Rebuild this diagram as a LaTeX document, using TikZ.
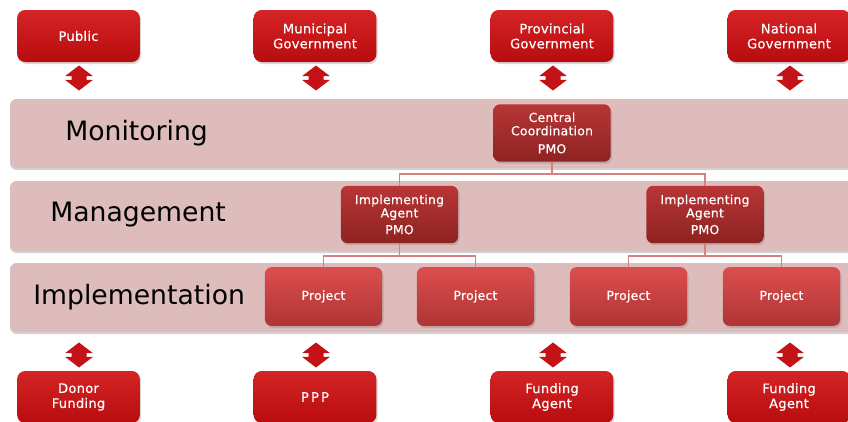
\documentclass[tikz,border=0pt]{standalone}
\usepackage{fontspec}
\newfontfamily\boxfont[FakeBold=0.5,LetterSpace=2]{DejaVu Sans}
\newfontfamily\labelfont{DejaVu Sans}
\usetikzlibrary{shadows}
\definecolor{bandfill}{RGB}{222,188,188}
\definecolor{arrowred}{RGB}{196,18,22}
\definecolor{connpink}{RGB}{214,128,128}
\definecolor{glossA}{RGB}{212,36,38}
\definecolor{glossB}{RGB}{196,16,20}
\definecolor{glossC}{RGB}{184,12,14}
\definecolor{darkA}{RGB}{184,54,54}
\definecolor{darkB}{RGB}{142,34,34}
\definecolor{projA}{RGB}{220,78,78}
\definecolor{projB}{RGB}{176,52,52}
\tikzset{
  band/.style={fill=bandfill, rounded corners=5pt, drop shadow={shadow xshift=0pt, shadow yshift=-1.5pt, opacity=0.35, fill=gray}},
  bandlabel/.style={font=\labelfont\fontsize{20}{22}\selectfont, text=black, anchor=west, inner sep=0pt},
  redbox/.style={rounded corners=6pt, minimum width=92pt, minimum height=39pt, top color=glossA, middle color=glossB, bottom color=glossC,
    text=white, font=\boxfont\fontsize{9.8}{11.25}\selectfont, align=center, inner sep=0pt,
    drop shadow={shadow xshift=1pt, shadow yshift=-1.5pt, opacity=0.3}},
  pmobox/.style={rounded corners=5pt, minimum width=88pt, minimum height=43pt, top color=darkA, bottom color=darkB,
    text=white, font=\boxfont\fontsize{9.3}{10}\selectfont, align=center, inner sep=0pt,
    drop shadow={shadow xshift=1pt, shadow yshift=-1.5pt, opacity=0.35}},
  projbox/.style={rounded corners=5pt, minimum width=88pt, minimum height=44pt, top color=projA, bottom color=projB,
    text=white, font=\boxfont\fontsize{9.3}{11}\selectfont, inner sep=0pt,
    drop shadow={shadow xshift=1pt, shadow yshift=-1.5pt, opacity=0.35}},
  conn/.style={draw=connpink, line width=1.2pt},
  dblarrow/.pic={
    \fill[arrowred] (0,-12.5) -- (14,-1.8) -- (7.5,-1.8) -- (7.5,1.8) -- (14,1.8) -- (0,12.5)
      -- (-14,1.8) -- (-7.5,1.8) -- (-7.5,-1.8) -- (-14,-1.8) -- cycle;
  }
}
\begin{document}
\begin{tikzpicture}[x=0.75pt, y=-0.75pt]
\useasboundingbox (0,0) rectangle (848,421);
\clip (0,0) rectangle (848,421);
\fill[white] (0,0) rectangle (848,421);

% bands
\path[band] (10,99) rectangle (870,168);
\path[band] (10,181) rectangle (870,251);
\path[band] (10,263) rectangle (870,332);
\node[bandlabel] (lmon) at (65,133.5) {Monitoring};
\node[bandlabel] (lman) at (50,214.5) {Management};
\node[bandlabel] (limp) at (33,297.5) {Implementation};

% top boxes
\node[redbox] (pub) at (78.5,36) {Public};
\node[redbox] (mun) at (315,36) {Municipal\\Government};
\node[redbox] (pro) at (552,36) {Provincial\\Government};
\node[redbox] (nat) at (789,36) {National\\Government};

% bottom boxes
\node[redbox] (don) at (78.5,397) {Donor\\Funding};
\node[redbox] (ppp) at (315,397) {P\,P\,P};
\node[redbox] (fa1) at (552,397) {Funding\\Agent};
\node[redbox] (fa2) at (789,397) {Funding\\Agent};

% arrows
\foreach \x in {79,316,553,790} {
  \pic at (\x,78) {dblarrow};
  \pic at (\x,355) {dblarrow};
}

% hierarchy
\node[pmobox] (cc) at (552,133) {Central\\Coordination\\[3.5pt]PMO};
\node[pmobox] (ia1) at (399.5,214.5) {Implementing\\Agent\\[2.5pt]PMO};
\node[pmobox] (ia2) at (705,214.5) {Implementing\\Agent\\[2.5pt]PMO};
\node[projbox] (p1) at (323.5,296.5) {Project};
\node[projbox] (p2) at (475.5,296.5) {Project};
\node[projbox] (p3) at (628.5,296.5) {Project};
\node[projbox] (p4) at (781.5,296.5) {Project};

\coordinate (j0) at (552,174);
\coordinate (j1) at (399.5,256);
\coordinate (j2) at (705,256);
\draw[conn] (cc.south) -- (j0) -| (ia1.north);
\draw[conn] (j0) -| (ia2.north);
\draw[conn] (ia1.south) -- (j1) -| (p1.north);
\draw[conn] (j1) -| (p2.north);
\draw[conn] (ia2.south) -- (j2) -| (p3.north);
\draw[conn] (j2) -| (p4.north);
\end{tikzpicture}
\end{document}
